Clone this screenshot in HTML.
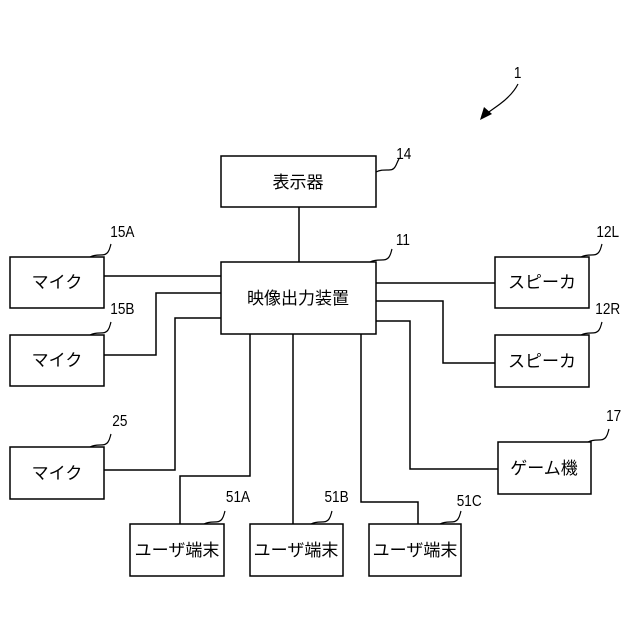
<!DOCTYPE html>
<html><head><meta charset="utf-8"><style>
html,body{margin:0;padding:0;background:#fff;}
svg{display:block;}
text{font-family:"Liberation Sans","Noto Sans CJK JP",sans-serif;fill:#000;}
.b{font-size:17px;text-anchor:middle;}
.l{font-size:16px;text-anchor:middle;}
</style></head><body>
<svg width="640" height="640" viewBox="0 0 640 640" xmlns="http://www.w3.org/2000/svg">
<g fill="none" stroke="#000" stroke-width="1.5">
<rect x="221" y="156" width="155" height="51"/>
<rect x="221" y="262" width="155" height="72"/>
<rect x="10" y="257" width="94" height="51"/>
<rect x="10" y="335" width="94" height="51"/>
<rect x="10" y="447" width="94" height="52"/>
<rect x="495" y="257" width="94" height="51"/>
<rect x="495" y="335" width="94" height="52"/>
<rect x="498" y="442" width="93" height="52"/>
<rect x="130" y="524" width="94" height="52"/>
<rect x="250" y="524" width="93" height="52"/>
<rect x="369" y="524" width="92" height="52"/>
<path d="M299 207V262"/>
<path d="M104 276H221"/>
<path d="M104 355H156V293H221"/>
<path d="M104 470H175V318H221"/>
<path d="M376 283H495"/>
<path d="M376 301H443V363H495"/>
<path d="M376 321H410V469H498"/>
<path d="M250 334V476H180V524"/>
<path d="M293 334V524"/>
<path d="M361 334V502H418V524"/>
<g stroke-width="1.2">
<path d="M376 172c4-2 7-2 11-2s6 0 8-3s2-5 4-8"/>
<path d="M370 262c4-2 8-2 11-2s6 0 8-3s2-5 3-8"/>
<path d="M90 257c4-2 7-2 10-2s6 0 8-3s2-5 3-8"/>
<path d="M90 335c4-2 7-2 10-2s6 0 8-3s2-5 3-8"/>
<path d="M90 447c4-2 7-2 10-2s6 0 8-3s2-5 3-8"/>
<path d="M581 257c4-2 7-2 10-2s6 0 8-3s2-5 3-8"/>
<path d="M581 335c4-2 7-2 10-2s6 0 8-3s2-5 3-8"/>
<path d="M588 442c4-2 7-2 10-2s6 0 8-3s2-5 3-8"/>
<path d="M204 524c4-2 7-2 10-2s6 0 8-3s2-5 3-8"/>
<path d="M311 524c4-2 7-2 10-2s6 0 8-3s2-5 3-8"/>
<path d="M440 524c4-2 7-2 10-2s6 0 8-3s2-5 3-8"/>
<path d="M518 84c-4 8-10 14-18 20s-12 8-16 12"/>
</g>
</g>
<path d="M480 120l4-13l8 7z" fill="#000"/>
<text class="b" x="298" y="188">表示器</text>
<text class="b" x="298" y="304">映像出力装置</text>
<text class="b" x="57" y="288">マイク</text>
<text class="b" x="57" y="366">マイク</text>
<text class="b" x="57" y="479">マイク</text>
<text class="b" x="542" y="288">スピーカ</text>
<text class="b" x="542" y="367">スピーカ</text>
<text class="b" x="544" y="474">ゲーム機</text>
<text class="b" x="177" y="556">ユーザ端末</text>
<text class="b" x="296" y="556">ユーザ端末</text>
<text class="b" x="415" y="556">ユーザ端末</text>
<g transform="scale(0.85 1)">
<text class="l" x="475" y="159">14</text>
<text class="l" x="474" y="245">11</text>
<text class="l" x="144" y="237">15A</text>
<text class="l" x="144" y="314">15B</text>
<text class="l" x="141" y="426">25</text>
<text class="l" x="715" y="237">12L</text>
<text class="l" x="715" y="314">12R</text>
<text class="l" x="722" y="421">17</text>
<text class="l" x="280" y="502">51A</text>
<text class="l" x="396" y="502">51B</text>
<text class="l" x="552" y="506">51C</text>
<text class="l" x="609" y="78">1</text>
</g>
</svg>
</body></html>
